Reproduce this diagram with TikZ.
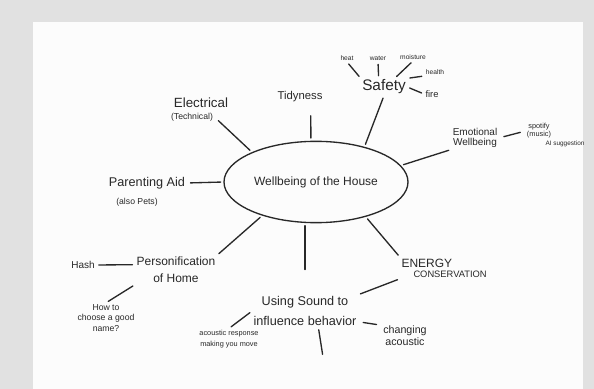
\documentclass[tikz,border=0pt]{standalone}
\usepackage{fontspec}
\setmainfont{Liberation Sans}
\usetikzlibrary{shapes.geometric}
\definecolor{pen}{RGB}{40,40,40}
\definecolor{frame}{RGB}{225,225,225}
\definecolor{sheet}{RGB}{252,252,252}
\newcommand{\hsz}[2]{\fontsize{#1}{#2}\selectfont}
\tikzset{every picture/.style={line width=0.75pt}}

\begin{document}
\begin{tikzpicture}[x=0.75pt,y=0.75pt,yscale=-1,xscale=1,
	lbl/.style={inner sep=0.75pt, text=pen, align=center},
	pencil/.style={draw=pen, line width=1pt, line cap=round, shorten <=2pt, shorten >=2pt}]
	\useasboundingbox (0,0) rectangle (594,389);

	%Sheet
	\fill[frame] (0,0) rectangle (594,389);
	\fill[sheet] (33,22) rectangle (583,389);

	%Ellipse
	\node[ellipse, draw=pen, line width=1pt, minimum width=138pt, minimum height=61pt, inner sep=0pt, text=pen, font=\hsz{9}{11}] (house) at (316,182) {Wellbeing of the House};

	% Text Node
	\node[lbl, font=\hsz{10}{12}] (elec) at (201,103) {Electrical};
	% Text Node
	\node[lbl, font=\hsz{6.5}{8}] (elecsub) at (192,117) {(Technical)};
	% Text Node
	\node[lbl, font=\hsz{8.5}{10}] (tidy) at (300,97) {Tidyness};
	% Text Node
	\node[lbl, font=\hsz{11.5}{13}] (safety) at (384,87) {Safety};
	% Text Node
	\node[lbl, font=\hsz{5}{6}] (heat) at (347,58) {heat};
	% Text Node
	\node[lbl, font=\hsz{5}{6}] (water) at (378,58) {water};
	% Text Node
	\node[lbl, font=\hsz{5}{6}] (moisture) at (413,57) {moisture};
	% Text Node
	\node[lbl, font=\hsz{5}{6}] (health) at (435,72) {health};
	% Text Node
	\node[lbl, font=\hsz{7}{8}] (fire) at (432,94) {fire};
	% Text Node
	\node[lbl, font=\hsz{7.5}{8}] (emo) at (475,138) {Emotional\\Wellbeing};
	% Text Node
	\node[lbl, font=\hsz{5.5}{6}] (spotify) at (539,131) {spotify\\(music)};
	% Text Node
	\node[lbl, font=\hsz{4.8}{6}] (aisugg) at (565,144) {AI suggestion};
	% Text Node
	\node[lbl, font=\hsz{9.5}{11}] (parent) at (147,183) {Parenting Aid};
	% Text Node
	\node[lbl, font=\hsz{6.5}{8}] (parentsub) at (137,202) {(also Pets)};
	% Text Node
	\node[lbl, font=\hsz{9}{13}] (person) at (176,270) {Personification\\of Home};
	% Text Node
	\node[lbl, font=\hsz{7.5}{9}] (hash) at (83,265) {Hash};
	% Text Node
	\node[lbl, font=\hsz{6.5}{8}] (howto) at (106,318) {How to\\choose a good\\name?};
	% Text Node
	\node[lbl, font=\hsz{9.5}{15}] (sound) at (305,311) {Using Sound to\\influence behavior};
	% Text Node
	\node[lbl, font=\hsz{5.5}{8.5}] (acresp) at (229,339) {acoustic response\\making you move};
	% Text Node
	\node[lbl, font=\hsz{8}{9}] (changing) at (405,336) {changing\\acoustic};
	% Text Node
	\node[lbl, align=left, anchor=west, font=\hsz{9}{7.5}] (energy) at (400,268) {ENERGY\\\hspace*{9pt}\hsz{7}{7.5}CONSERVATION};
	\coordinate (soundtail) at (323,357);

	%Straight Lines
	\draw[pencil, shorten >=4pt] (house.155) -- (elecsub.east);
	\draw[pencil, shorten >=9pt] (house.97) -- ([xshift=8pt]tidy.south);
	\draw[pencil] (house.36) -- (safety.south);
	\draw[pencil] (heat.south) -- (safety.north west);
	\draw[pencil] (water.south) -- ([xshift=-4pt]safety.north);
	\draw[pencil] (moisture.south) -- ([xshift=8pt]safety.north);
	\draw[pencil] (health.south west) -- (safety.north east);
	\draw[pencil] (safety.east) -- (fire.west);
	\draw[pencil] (house.11) -- (emo.south west);
	\draw[pencil, shorten <=4pt, shorten >=4pt] (emo.east) -- (spotify.west);
	\draw[pencil, shorten >=3pt] (house.180) -- (parent.east);
	\draw[pencil] (house.212) -- (person.north east);
	\draw[pencil] ([yshift=-4pt]person.west) -- (hash.east);
	\draw[pencil] (person.south west) -- (howto.north);
	\draw[pencil, shorten >=19pt] (house.255) -- (sound.north -| house.255);
	\draw[pencil] (house.-35) -- (energy.north west);
	\draw[pencil] (energy.south west) -- (sound.north east);
	\draw[pencil, shorten <=4pt, shorten >=4pt] ([yshift=8pt]sound.east) -- ([yshift=-8pt]changing.west);
	\draw[pencil] ([xshift=10pt]sound.south) -- (soundtail);
	\draw[pencil] (sound.west) -- (acresp.north);

\end{tikzpicture}
\end{document}
